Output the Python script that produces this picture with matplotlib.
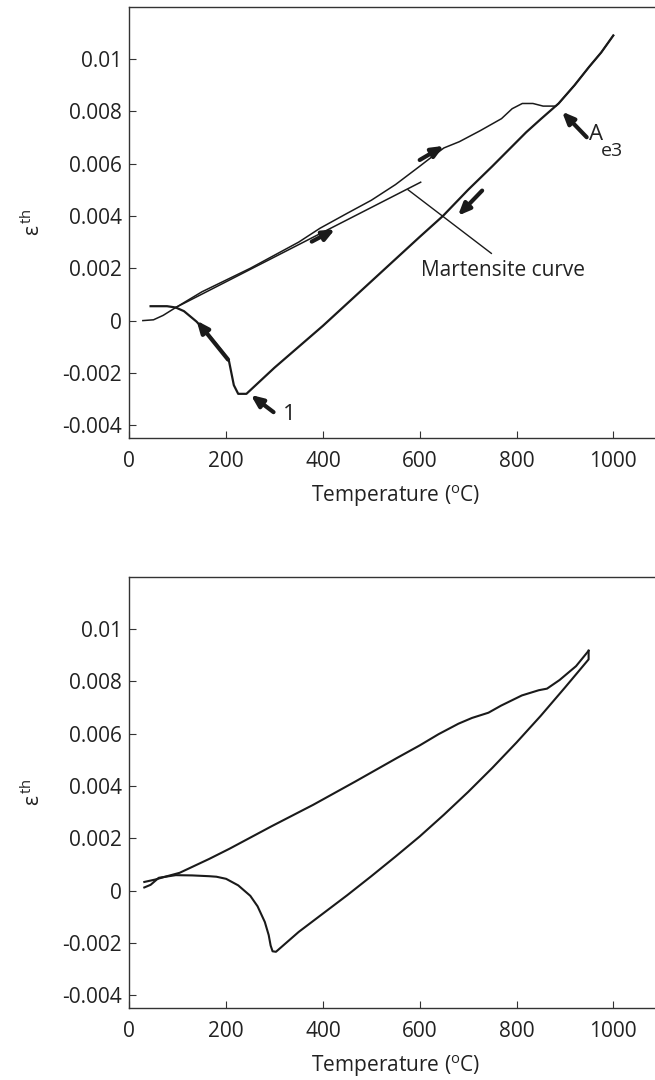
import matplotlib
matplotlib.use("Agg")
import matplotlib.pyplot as plt

plt.rcParams['font.family'] = ['Open Sans', 'DejaVu Sans']
plt.rcParams['mathtext.fontset'] = 'custom'
plt.rcParams['mathtext.rm'] = 'Open Sans'
plt.rcParams['mathtext.it'] = 'Open Sans'

# --- top panel: heating / cooling (dilatometer) ---
heat_T = [28, 50, 70, 96, 150, 200, 250, 300, 350, 394, 450, 500, 550, 600, 621,
          650, 682, 725, 769, 791, 812, 834, 855, 881, 887, 920, 950, 975, 1000]
heat_e = [0.0, 0.00003, 0.0002, 0.0005, 0.0011, 0.00155, 0.002, 0.0025, 0.003, 0.00353,
          0.0041, 0.0046, 0.0052, 0.0059, 0.0062, 0.0066, 0.00684, 0.00726, 0.00772,
          0.0081, 0.0083, 0.0083, 0.0082, 0.0082, 0.0083, 0.009, 0.0097, 0.01025, 0.0109]

cool_T = [1000, 975, 950, 920, 887, 850, 820, 750, 700, 648, 600, 500, 400, 300, 242,
          225, 216, 206, 191, 165, 139, 113, 96, 78, 44]
cool_e = [0.0109, 0.01025, 0.0097, 0.009, 0.0083, 0.0077, 0.0072, 0.0059, 0.005, 0.004,
          0.0032, 0.0015, -0.0002, -0.0018, -0.0028, -0.0028, -0.00247, -0.00155,
          -0.00116, -0.00057, -0.00004, 0.00036, 0.0005, 0.00055, 0.00055]

mart_T = [96, 602]
mart_e = [0.0005, 0.00529]

# arrows: (tail T, tail e, head T, head e)
arrows_top = [
    (204, -0.00149, 139, 0.0),
    (298, -0.0035, 251, -0.00284),
    (377, 0.00302, 425, 0.00349),
    (600, 0.00614, 650, 0.00668),
    (729, 0.00497, 679, 0.00401),
    (945, 0.00701, 894, 0.00799),
]

# --- bottom panel ---
heat2_T = [31, 53, 78, 104, 165, 207, 294, 380, 467, 553, 600, 639, 680, 708, 742,
           768, 811, 846, 863, 889, 923, 949]
heat2_e = [0.00033, 0.00042, 0.00055, 0.00068, 0.00121, 0.0016, 0.00246, 0.00328,
           0.00417, 0.00507, 0.00555, 0.00598, 0.00638, 0.0066, 0.0068, 0.00707,
           0.00746, 0.00766, 0.00772, 0.00805, 0.00858, 0.00917]

cool2_T = [949, 949, 900, 850, 800, 750, 700, 650, 600, 550, 500, 450, 400, 350, 303,
           296, 292, 288, 280, 265, 250, 225, 200, 180, 165, 130, 96, 61, 44, 31]
cool2_e = [0.00917, 0.00884, 0.00776, 0.00668, 0.00566, 0.00469, 0.00377, 0.0029,
           0.00207, 0.0013, 0.00055, -0.00018, -0.00088, -0.00158, -0.00234,
           -0.00232, -0.0021, -0.0017, -0.0012, -0.0006, -0.0002, 0.0002, 0.00045,
           0.00053, 0.00055, 0.00058, 0.00059, 0.00049, 0.00022, 0.00012]

xticks = [0, 200, 400, 600, 800, 1000]
yticks = [-0.004, -0.002, 0, 0.002, 0.004, 0.006, 0.008, 0.01]
yticklabels = ['-0.004', '-0.002', '0', '0.002', '0.004', '0.006', '0.008', '0.01']

fig = plt.figure(figsize=(6.55, 10.8), dpi=100)
ax1 = fig.add_axes([129.3 / 655, 1 - 438.3 / 1080, 532.4 / 655, 431.6 / 1080])
ax2 = fig.add_axes([129.3 / 655, 1 - 1008.3 / 1080, 532.4 / 655, 431.6 / 1080])

lc = '#1a1a1a'
tc = '#222222'

def style(ax):
    ax.set_xlim(0, 1100)
    ax.set_ylim(-0.0045, 0.012)
    ax.set_xticks(xticks)
    ax.set_xticklabels([str(t) for t in xticks])
    ax.set_yticks(yticks)
    ax.set_yticklabels(yticklabels)
    ax.tick_params(direction='in', length=5, width=0.8, color='#333333',
                   labelsize=15, labelcolor=tc)
    ax.tick_params(axis='x', pad=9.5)
    ax.tick_params(axis='y', pad=5.5)
    for s in ax.spines.values():
        s.set_color('#333333')
        s.set_linewidth(1.0)
    ax.set_xlabel('Temperature ($^{\\rm o}$C)', fontsize=15, color=tc, labelpad=8)
    ax.set_ylabel('ε$^{\\rm \\,th}$', fontsize=15, color=tc, labelpad=12)


ax1.plot(heat_T, heat_e, color=lc, lw=1.1)
ax1.plot(cool_T, cool_e, color=lc, lw=1.6)
ax1.plot(mart_T, mart_e, color=lc, lw=1.1)
ax1.plot([576, 748], [0.0050, 0.00257], color=lc, lw=1.0)
ax1.text(602, 0.00193, 'Martensite curve', fontsize=15, color=tc,
         ha='left', va='center')
for t0, e0, t1, e1 in arrows_top:
    ax1.annotate('', xy=(t1, e1), xytext=(t0, e0),
                 arrowprops=dict(arrowstyle='-|>,head_length=0.7,head_width=0.3',
                                 lw=3, color=lc, shrinkA=0, shrinkB=0))
ax1.text(318, -0.0036, '1', fontsize=16, color=tc, ha='left', va='center')
ax1.text(950, 0.0071, 'A', fontsize=16, color=tc, ha='left', va='center')
ax1.text(974, 0.0065, 'e3', fontsize=14, color=tc, ha='left', va='center')
style(ax1)

ax2.plot(heat2_T, heat2_e, color=lc, lw=1.5)
ax2.plot(cool2_T, cool2_e, color=lc, lw=1.5)
style(ax2)

fig.savefig('out.png', dpi=100)
